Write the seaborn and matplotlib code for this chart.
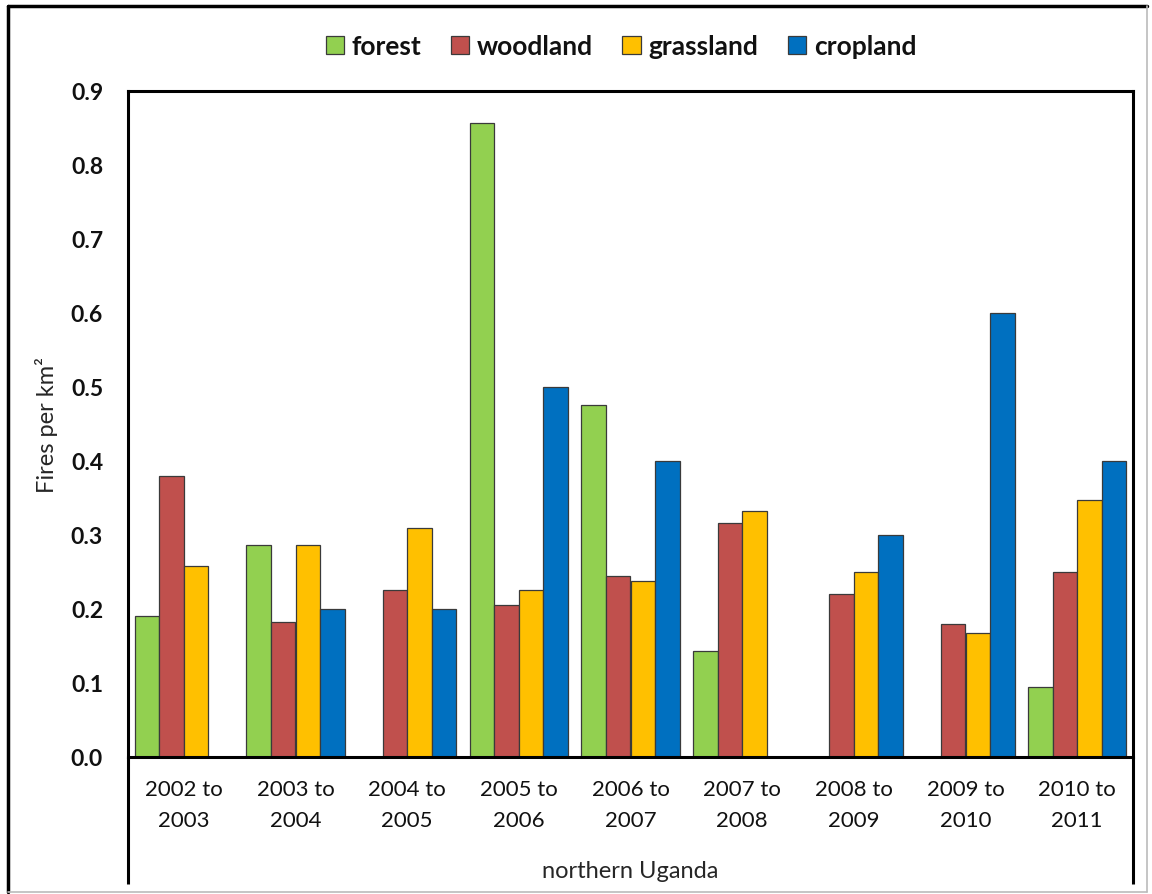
import numpy as np
import pandas as pd
import matplotlib
matplotlib.use("Agg")
import matplotlib.pyplot as plt
from matplotlib.lines import Line2D
from matplotlib.ticker import FormatStrFormatter
import seaborn as sns

# ── data ──────────────────────────────
periods = ["2002 to\n2003", "2003 to\n2004", "2004 to\n2005", "2005 to\n2006",
           "2006 to\n2007", "2007 to\n2008", "2008 to\n2009", "2009 to\n2010",
           "2010 to\n2011"]
land_types = ["forest", "woodland", "grassland", "cropland"]
forest    = [0.190, 0.286, np.nan, 0.857, 0.476, 0.143, np.nan, np.nan, 0.095]
woodland  = [0.380, 0.182, 0.226, 0.206, 0.244, 0.316, 0.220, 0.180, 0.250]
grassland = [0.258, 0.286, 0.310, 0.226, 0.238, 0.332, 0.250, 0.167, 0.347]
cropland  = [np.nan, 0.200, 0.200, 0.500, 0.400, np.nan, 0.300, 0.600, 0.400]
colors = ["#92D050", "#C0504D", "#FFC000", "#0070C0"]

df = pd.DataFrame({"period": periods, "forest": forest, "woodland": woodland,
                   "grassland": grassland, "cropland": cropland})
df = df.melt(id_vars="period", var_name="type", value_name="value")

sns.set_style("white")
plt.rcParams["font.family"] = ["Lato", "DejaVu Sans"]
plt.rcParams["text.color"] = "#111111"

W, H = 1152, 895
fig = plt.figure(figsize=(W / 100, H / 100), dpi=100)
ax = fig.add_axes([128 / W, 1 - 758 / H, (1133 - 128) / W, (758 - 92) / H])

sns.barplot(data=df, x="period", y="value", hue="type", hue_order=land_types,
            order=periods, palette=colors, saturation=1, width=0.88, errorbar=None,
            edgecolor="#3a3a3a", linewidth=0.9, ax=ax)

# ── axes ──────────────────────────────
ax.set_xlim(-0.5, len(periods) - 0.5)
ax.set_ylim(0, 0.9)
ax.set_yticks(np.arange(0, 0.91, 0.1))
ax.yaxis.set_major_formatter(FormatStrFormatter("%.1f"))
ax.tick_params(axis="both", length=0, colors="#111111")
ax.tick_params(axis="y", pad=18, labelsize=16.5)
ax.tick_params(axis="x", pad=16, labelsize=16)
for lbl in ax.get_yticklabels():
    lbl.set_fontweight("bold")
for lbl in ax.get_xticklabels():
    lbl.set_linespacing(1.65)

for s in ax.spines.values():
    s.set_visible(True)
    s.set_color("black")
    s.set_linewidth(2.2)

# left / right spines run down past the category labels
ext = -(885 - 758) / (758 - 92)
for xx in (0, 1):
    ax.plot([xx, xx], [0, ext], transform=ax.transAxes, color="black",
            lw=2.2, clip_on=False, solid_capstyle="butt")

ax.set_xlabel("northern Uganda", fontsize=17, labelpad=22)
ax.set_ylabel("Fires per km²", fontsize=17, labelpad=9)

# ── legend ────────────────────────────
sns.move_legend(ax, "center", bbox_to_anchor=((621 - 128) / 1005, (758 - 47) / 666),
                ncol=4, frameon=False, title=None, fontsize=19,
                handlelength=0.7, handleheight=0.7, handletextpad=0.3,
                columnspacing=1.1)
for t in ax.get_legend().get_texts():
    t.set_fontweight("bold")

# ── outer frame ───────────────────────
fig.add_artist(Line2D([8 / W, 8 / W], [1 - 7 / H, 1 - 893 / H], color="black", lw=2.5))
fig.add_artist(Line2D([8 / W, 1147 / W], [1 - 7 / H, 1 - 7 / H], color="black", lw=2.5))
fig.add_artist(Line2D([1147 / W, 1147 / W], [1 - 7 / H, 1 - 893 / H], color="#bbbbbb", lw=1.2))
fig.add_artist(Line2D([8 / W, 1147 / W], [1 - 893 / H, 1 - 893 / H], color="#bbbbbb", lw=1.2))

fig.savefig("out.png", dpi=100)
